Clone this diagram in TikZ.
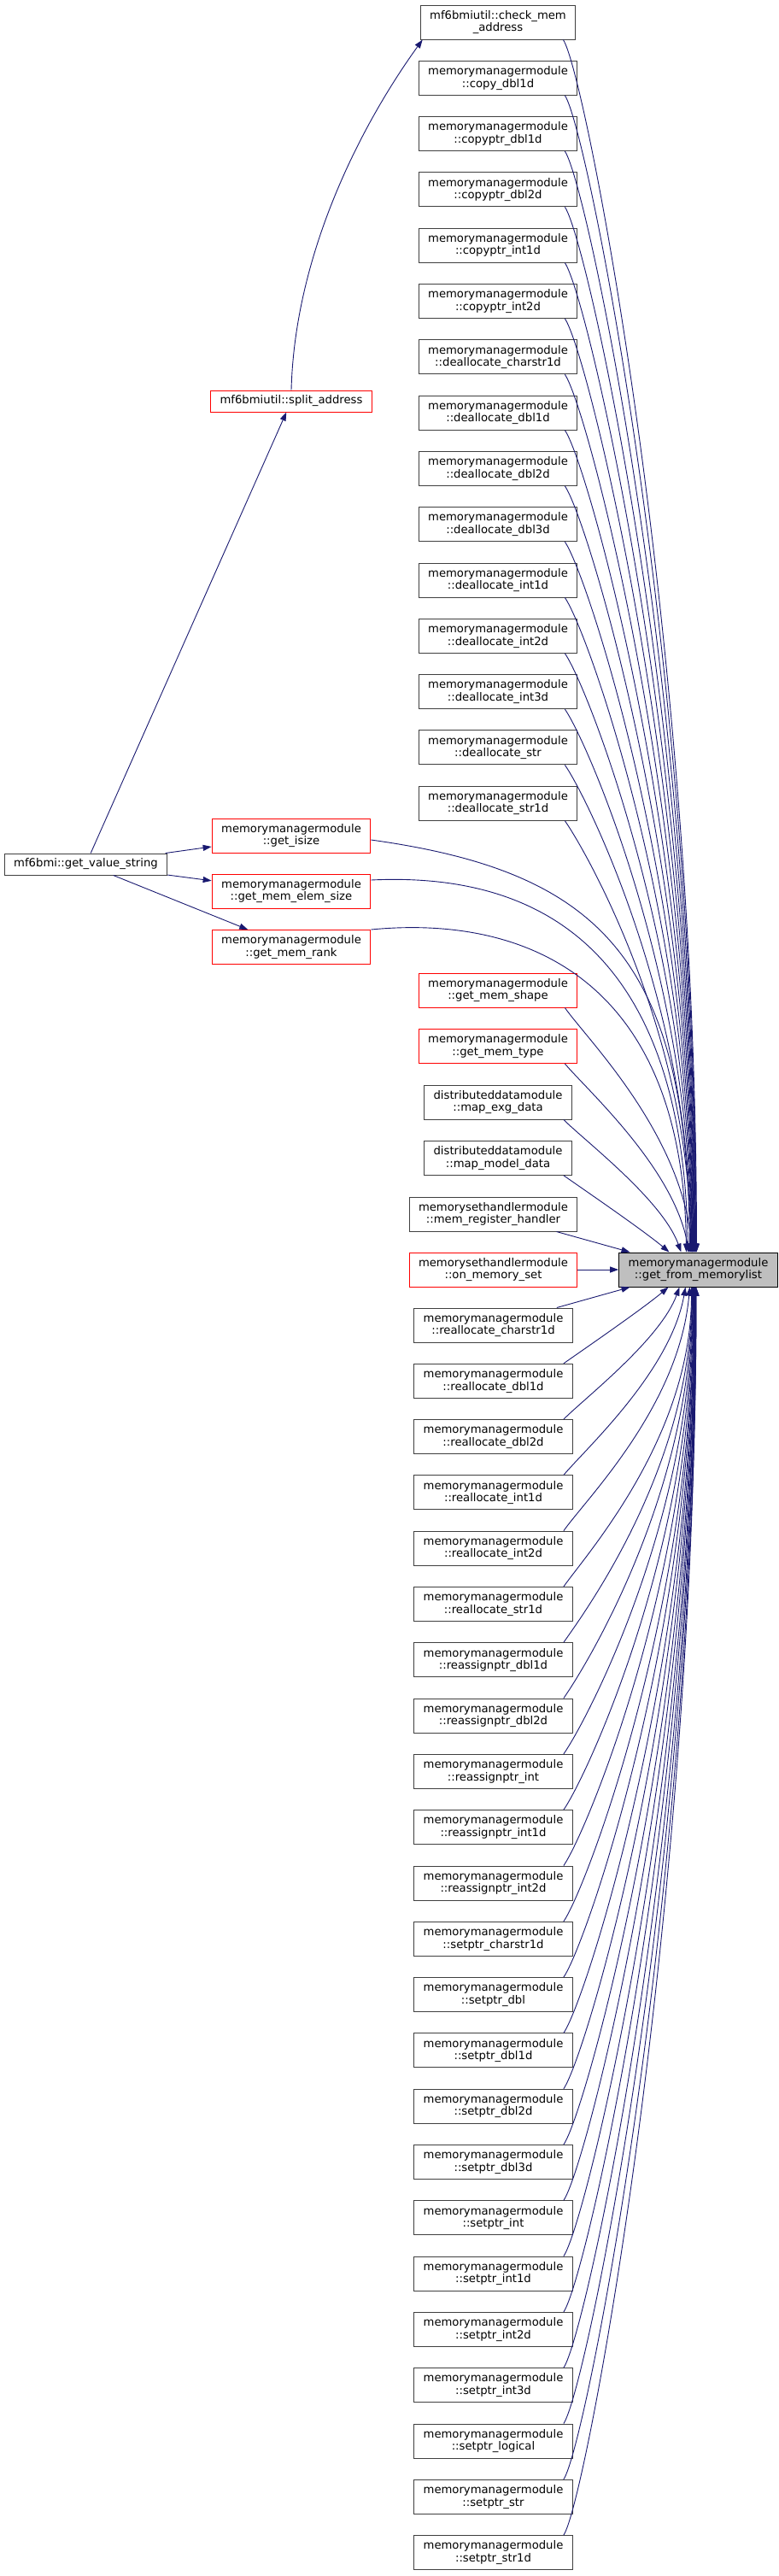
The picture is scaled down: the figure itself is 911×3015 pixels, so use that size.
\documentclass[tikz,border=0pt]{standalone}
\usepackage{fontspec}
\setmainfont{DejaVu Sans}
\usepackage{tikz}
\usetikzlibrary{arrows.meta}
\definecolor{edgeblue}{HTML}{191970}
\definecolor{boxgrey}{HTML}{404040}
\tikzset{func/.style = {shape = rectangle, draw = boxgrey, fill = white, line width = 1pt, align = center, inner xsep = 11pt, inner ysep = 0pt, minimum height = 40pt, font = \fontsize{13.2}{14.5}\selectfont}}
\tikzset{funcred/.style = {func, draw = red}}
\tikzset{root/.style = {func, draw = black, fill = black!25}}
\tikzset{flat/.style = {minimum height = 25pt}}
\tikzset{call/.style = {-{Triangle[length = 10pt, width = 7pt]}, color = edgeblue, line width = 0.9pt}}

\begin{document}
\begin{tikzpicture}[x = 1pt, y = -1pt]
	\useasboundingbox (0, 0) rectangle (911, 3015);

	\node[func, flat] (gvs) at (100.5, 1011.5) {mf6bmi::get\_value\_string};

	\node[funcred, flat] (split) at (341, 469.5) {mf6bmiutil::split\_address};
	\node[funcred] (isize) at (341, 978) {memorymanagermodule\\::get\_isize};
	\node[funcred] (elemsize) at (341, 1043) {memorymanagermodule\\::get\_mem\_elem\_size};
	\node[funcred] (rank) at (341, 1108.5) {memorymanagermodule\\::get\_mem\_rank};

	\node[func] (chkmem) at (583, 26) {mf6bmiutil::check\_mem\\\_address};
	\node[func] (cpydbl1d) at (583, 91.3) {memorymanagermodule\\::copy\_dbl1d};
	\node[func] (cpdbl1d) at (583, 156.6) {memorymanagermodule\\::copyptr\_dbl1d};
	\node[func] (cpdbl2d) at (583, 221.9) {memorymanagermodule\\::copyptr\_dbl2d};
	\node[func] (cpint1d) at (583, 287.2) {memorymanagermodule\\::copyptr\_int1d};
	\node[func] (cpint2d) at (583, 352.5) {memorymanagermodule\\::copyptr\_int2d};
	\node[func] (dacharstr1d) at (583, 417.8) {memorymanagermodule\\::deallocate\_charstr1d};
	\node[func] (dadbl1d) at (583, 483.1) {memorymanagermodule\\::deallocate\_dbl1d};
	\node[func] (dadbl2d) at (583, 548.4) {memorymanagermodule\\::deallocate\_dbl2d};
	\node[func] (dadbl3d) at (583, 613.7) {memorymanagermodule\\::deallocate\_dbl3d};
	\node[func] (daint1d) at (583, 679) {memorymanagermodule\\::deallocate\_int1d};
	\node[func] (daint2d) at (583, 744.3) {memorymanagermodule\\::deallocate\_int2d};
	\node[func] (daint3d) at (583, 809.6) {memorymanagermodule\\::deallocate\_int3d};
	\node[func] (dastr) at (583, 874.9) {memorymanagermodule\\::deallocate\_str};
	\node[func] (dastr1d) at (583, 940.2) {memorymanagermodule\\::deallocate\_str1d};
	\node[funcred] (shape) at (583, 1159) {memorymanagermodule\\::get\_mem\_shape};
	\node[funcred] (type) at (583, 1224.5) {memorymanagermodule\\::get\_mem\_type};
	\node[func] (exg) at (583, 1290) {distributeddatamodule\\::map\_exg\_data};
	\node[func] (model) at (583, 1355.3) {distributeddatamodule\\::map\_model\_data};
	\node[func] (memreg) at (577.5, 1421) {memorysethandlermodule\\::mem\_register\_handler};
	\node[funcred] (onset) at (577.5, 1486) {memorysethandlermodule\\::on\_memory\_set};

	\node[root] (r) at (817.5, 1486) {memorymanagermodule\\::get\_from\_memorylist};

	\node[func] (racharstr1d) at (577.5, 1551) {memorymanagermodule\\::reallocate\_charstr1d};
	\node[func] (radbl1d) at (577.5, 1616.3) {memorymanagermodule\\::reallocate\_dbl1d};
	\node[func] (radbl2d) at (577.5, 1681.6) {memorymanagermodule\\::reallocate\_dbl2d};
	\node[func] (raint1d) at (577.5, 1746.9) {memorymanagermodule\\::reallocate\_int1d};
	\node[func] (raint2d) at (577.5, 1812.2) {memorymanagermodule\\::reallocate\_int2d};
	\node[func] (rastr1d) at (577.5, 1877.5) {memorymanagermodule\\::reallocate\_str1d};
	\node[func] (rpdbl1d) at (577.5, 1942.8) {memorymanagermodule\\::reassignptr\_dbl1d};
	\node[func] (rpdbl2d) at (577.5, 2008.1) {memorymanagermodule\\::reassignptr\_dbl2d};
	\node[func] (rpint) at (577.5, 2073.4) {memorymanagermodule\\::reassignptr\_int};
	\node[func] (rpint1d) at (577.5, 2138.7) {memorymanagermodule\\::reassignptr\_int1d};
	\node[func] (rpint2d) at (577.5, 2204) {memorymanagermodule\\::reassignptr\_int2d};
	\node[func] (spcharstr1d) at (577.5, 2269.3) {memorymanagermodule\\::setptr\_charstr1d};
	\node[func] (spdbl) at (577.5, 2334.6) {memorymanagermodule\\::setptr\_dbl};
	\node[func] (spdbl1d) at (577.5, 2399.9) {memorymanagermodule\\::setptr\_dbl1d};
	\node[func] (spdbl2d) at (577.5, 2465.2) {memorymanagermodule\\::setptr\_dbl2d};
	\node[func] (spdbl3d) at (577.5, 2530.5) {memorymanagermodule\\::setptr\_dbl3d};
	\node[func] (spint) at (577.5, 2595.8) {memorymanagermodule\\::setptr\_int};
	\node[func] (spint1d) at (577.5, 2661.1) {memorymanagermodule\\::setptr\_int1d};
	\node[func] (spint2d) at (577.5, 2726.4) {memorymanagermodule\\::setptr\_int2d};
	\node[func] (spint3d) at (577.5, 2791.7) {memorymanagermodule\\::setptr\_int3d};
	\node[func] (splogical) at (577.5, 2857) {memorymanagermodule\\::setptr\_logical};
	\node[func] (spstr) at (577.5, 2922.3) {memorymanagermodule\\::setptr\_str};
	\node[func] (spstr1d) at (577.5, 2987.6) {memorymanagermodule\\::setptr\_str1d};

	\draw[call] (gvs) to (split);
	\draw[call] (gvs) to (isize);
	\draw[call] (gvs) to (elemsize);
	\draw[call] (gvs) to (rank);
	\draw[call] (split.north) .. controls (345, 300) and (420, 150) .. ([xshift = 3pt]chkmem.south west);

	\draw[call] ([yshift = -5pt]isize.east) .. controls (700, 1020) and (805, 1120) .. ([xshift = -10pt]r.north);
	\draw[call] ([yshift = 13pt]elemsize.east) .. controls (640, 1020) and (800, 1120) .. ([xshift = -12pt]r.north);
	\draw[call] (rank.north east) .. controls (620, 1070) and (800, 1150) .. ([xshift = -14pt]r.north);

	\draw[call] ([xshift = -15pt]chkmem.south east) .. controls +(-55:45pt) and +(90:710pt) .. ([xshift = -2pt]r.north);
	\draw[call] ([xshift = -15pt]cpydbl1d.south east) .. controls +(-55:45pt) and +(90:677pt) .. ([xshift = -2.5pt]r.north);
	\draw[call] ([xshift = -15pt]cpdbl1d.south east) .. controls +(-55:45pt) and +(90:645pt) .. ([xshift = -3pt]r.north);
	\draw[call] ([xshift = -15pt]cpdbl2d.south east) .. controls +(-55:45pt) and +(90:612pt) .. ([xshift = -3.5pt]r.north);
	\draw[call] ([xshift = -15pt]cpint1d.south east) .. controls +(-55:45pt) and +(90:579pt) .. ([xshift = -4pt]r.north);
	\draw[call] ([xshift = -15pt]cpint2d.south east) .. controls +(-55:45pt) and +(90:547pt) .. ([xshift = -4.5pt]r.north);
	\draw[call] ([xshift = -15pt]dacharstr1d.south east) .. controls +(-55:45pt) and +(90:514pt) .. ([xshift = -5pt]r.north);
	\draw[call] ([xshift = -15pt]dadbl1d.south east) .. controls +(-55:45pt) and +(90:481pt) .. ([xshift = -5.5pt]r.north);
	\draw[call] ([xshift = -15pt]dadbl2d.south east) .. controls +(-55:45pt) and +(90:449pt) .. ([xshift = -6pt]r.north);
	\draw[call] ([xshift = -15pt]dadbl3d.south east) .. controls +(-55:45pt) and +(90:416pt) .. ([xshift = -6.5pt]r.north);
	\draw[call] ([xshift = -15pt]daint1d.south east) .. controls +(-55:45pt) and +(90:384pt) .. ([xshift = -7pt]r.north);
	\draw[call] ([xshift = -15pt]daint2d.south east) .. controls +(-55:45pt) and +(90:351pt) .. ([xshift = -7.5pt]r.north);
	\draw[call] ([xshift = -15pt]daint3d.south east) .. controls +(-55:45pt) and +(90:318pt) .. ([xshift = -8pt]r.north);
	\draw[call] ([xshift = -15pt]dastr.south east) .. controls +(-55:45pt) and +(90:286pt) .. ([xshift = -8.5pt]r.north);
	\draw[call] ([xshift = -15pt]dastr1d.south east) .. controls +(-55:45pt) and +(90:253pt) .. ([xshift = -9pt]r.north);
	\draw[call] ([xshift = -15pt]shape.south east) .. controls +(-55:45pt) and +(95:140pt) .. ([xshift = -7pt]r.north);
	\draw[call] ([xshift = -15pt]type.south east) .. controls +(-50:40pt) and +(100:100pt) .. ([xshift = -11pt]r.north);
	\draw[call] ([xshift = -10pt]exg.south east) .. controls +(-45:35pt) and +(110:65pt) .. ([xshift = -20pt]r.north);
	\draw[call] ([xshift = -10pt]model.south east) .. controls +(-35:30pt) and +(140:40pt) .. ([xshift = -34pt]r.north);
	\draw[call] ([xshift = -25pt]memreg.south east) to ([xshift = -80pt]r.north);
	\draw[call] (onset) to (r);

	\draw[call] ([xshift = -19pt]racharstr1d.north east) to ([xshift = -80pt]r.south);
	\draw[call] ([xshift = -11pt]radbl1d.north east) .. controls +(35:30pt) and +(-140:40pt) .. ([xshift = -35pt]r.south);
	\draw[call] ([xshift = -11pt]radbl2d.north east) .. controls +(45:35pt) and +(-110:65pt) .. ([xshift = -22pt]r.south);
	\draw[call] ([xshift = -11pt]raint1d.north east) .. controls +(50:40pt) and +(-100:100pt) .. ([xshift = -15pt]r.south);
	\draw[call] ([xshift = -11pt]raint2d.north east) .. controls +(55:45pt) and +(-95:140pt) .. ([xshift = -10pt]r.south);
	\draw[call] ([xshift = -11pt]rastr1d.north east) .. controls +(55:45pt) and +(-90:176pt) .. ([xshift = -8pt]r.south);
	\draw[call] ([xshift = -11pt]rpdbl1d.north east) .. controls +(55:45pt) and +(-90:209pt) .. ([xshift = -7.5pt]r.south);
	\draw[call] ([xshift = -11pt]rpdbl2d.north east) .. controls +(55:45pt) and +(-90:241pt) .. ([xshift = -7pt]r.south);
	\draw[call] ([xshift = -11pt]rpint.north east) .. controls +(55:45pt) and +(-90:274pt) .. ([xshift = -6.5pt]r.south);
	\draw[call] ([xshift = -11pt]rpint1d.north east) .. controls +(55:45pt) and +(-90:307pt) .. ([xshift = -6pt]r.south);
	\draw[call] ([xshift = -11pt]rpint2d.north east) .. controls +(55:45pt) and +(-90:339pt) .. ([xshift = -5.5pt]r.south);
	\draw[call] ([xshift = -11pt]spcharstr1d.north east) .. controls +(55:45pt) and +(-90:372pt) .. ([xshift = -5pt]r.south);
	\draw[call] ([xshift = -11pt]spdbl.north east) .. controls +(55:45pt) and +(-90:404pt) .. ([xshift = -5pt]r.south);
	\draw[call] ([xshift = -11pt]spdbl1d.north east) .. controls +(55:45pt) and +(-90:437pt) .. ([xshift = -4.5pt]r.south);
	\draw[call] ([xshift = -11pt]spdbl2d.north east) .. controls +(55:45pt) and +(-90:470pt) .. ([xshift = -4.5pt]r.south);
	\draw[call] ([xshift = -11pt]spdbl3d.north east) .. controls +(55:45pt) and +(-90:502pt) .. ([xshift = -4pt]r.south);
	\draw[call] ([xshift = -11pt]spint.north east) .. controls +(55:45pt) and +(-90:535pt) .. ([xshift = -4pt]r.south);
	\draw[call] ([xshift = -11pt]spint1d.north east) .. controls +(55:45pt) and +(-90:568pt) .. ([xshift = -3.5pt]r.south);
	\draw[call] ([xshift = -11pt]spint2d.north east) .. controls +(55:45pt) and +(-90:600pt) .. ([xshift = -3.5pt]r.south);
	\draw[call] ([xshift = -11pt]spint3d.north east) .. controls +(55:45pt) and +(-90:633pt) .. ([xshift = -3pt]r.south);
	\draw[call] ([xshift = -11pt]splogical.north east) .. controls +(55:45pt) and +(-90:666pt) .. ([xshift = -3pt]r.south);
	\draw[call] ([xshift = -11pt]spstr.north east) .. controls +(55:45pt) and +(-90:698pt) .. ([xshift = -2.5pt]r.south);
	\draw[call] ([xshift = -11pt]spstr1d.north east) .. controls +(55:45pt) and +(-90:731pt) .. ([xshift = -2.5pt]r.south);
\end{tikzpicture}
\end{document}
